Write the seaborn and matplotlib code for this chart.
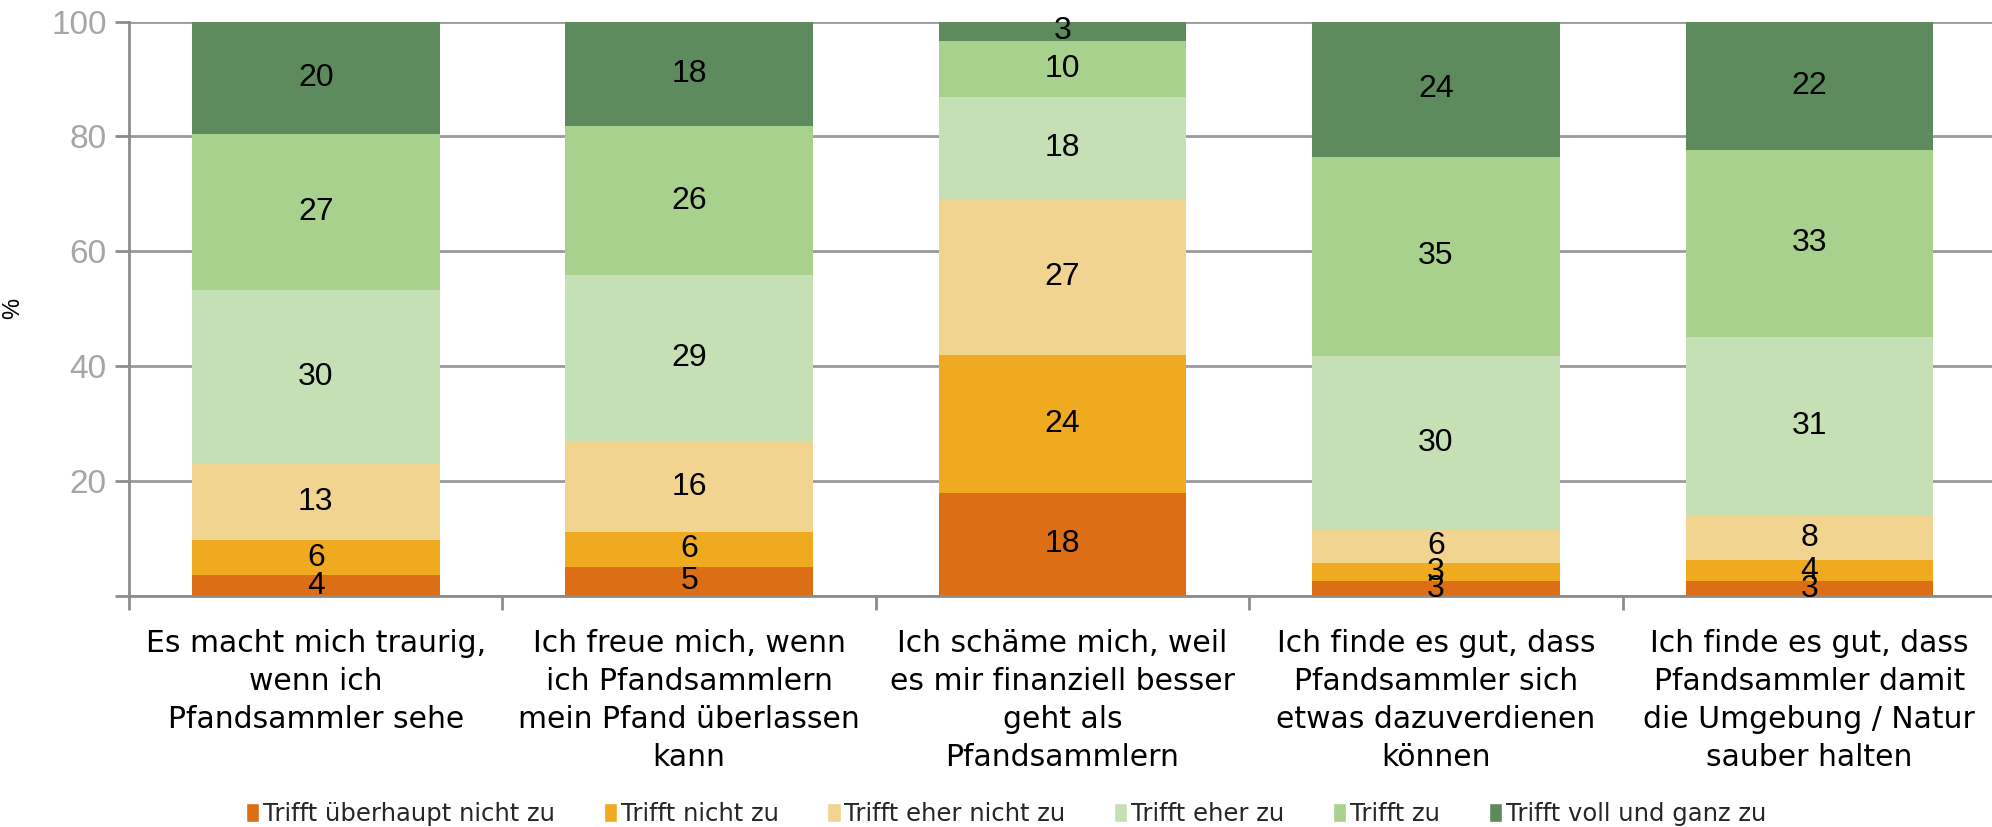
import matplotlib
matplotlib.use("Agg")
import matplotlib.pyplot as plt
from matplotlib.patches import Patch
import seaborn as sns
import pandas as pd
import numpy as np

statements = [
    "Es macht mich traurig,\nwenn ich\nPfandsammler sehe",
    "Ich freue mich, wenn\nich Pfandsammlern\nmein Pfand überlassen\nkann",
    "Ich schäme mich, weil\nes mir finanziell besser\ngeht als\nPfandsammlern",
    "Ich finde es gut, dass\nPfandsammler sich\netwas dazuverdienen\nkönnen",
    "Ich finde es gut, dass\nPfandsammler damit\ndie Umgebung / Natur\nsauber halten",
]
responses = ["Trifft überhaupt nicht zu", "Trifft nicht zu", "Trifft eher nicht zu",
             "Trifft eher zu", "Trifft zu", "Trifft voll und ganz zu"]
uberhaupt_nicht = [3.6, 5.1, 18.0, 2.6, 2.6]
nicht = [6.1, 6.1, 23.9, 3.2, 3.6]
eher_nicht = [13.4, 15.7, 27.1, 5.7, 7.8]
eher = [30.2, 29.0, 17.9, 30.3, 31.1]
zu = [27.1, 25.9, 9.8, 34.7, 32.6]
voll = [19.6, 18.2, 3.3, 23.7, 22.3]
colors = ["#DC6E15", "#F0AA20", "#F1D48F", "#C5E0B5", "#A8D18E", "#5E8B5E"]
yticks = [0, 20, 40, 60, 80, 100]
yticklabels = ["", "20", "40", "60", "80", "100"]

series = [uberhaupt_nicht, nicht, eher_nicht, eher, zu, voll]
rows = []
for r, vals in zip(responses, series):
    for s, v in zip(statements, vals):
        rows.append({"statement": s, "response": r, "value": v})
df = pd.DataFrame(rows)

sns.set_style("white")
plt.rcParams["font.family"] = ["Liberation Sans", "DejaVu Sans"]

fig = plt.figure(figsize=(19.92, 8.27), dpi=100)
ax = fig.add_axes([0.0648, 0.2793, 0.9372, 0.6946])

bottom = np.zeros(len(statements))
for r, c in zip(responses, colors):
    sub = df[df["response"] == r].set_index("statement").loc[statements]
    v = sub["value"].values
    sns.barplot(x=statements, y=v, bottom=bottom, color=c,
                width=0.663, saturation=1, ax=ax, linewidth=0, order=statements)
    cont = ax.containers[-1]
    ax.bar_label(cont, labels=[f"{x:.0f}" for x in v], label_type="center",
                 fontsize=23, color="black")
    bottom = bottom + v

ax.set_ylim(0, 100)
ax.set_xlim(-0.5, 4.5)
ax.set_yticks(yticks)
ax.set_yticklabels(yticklabels)
ax.yaxis.grid(True, color="#9A9A9A", linewidth=2)
ax.set_axisbelow(True)
for side in ["top", "right"]:
    ax.spines[side].set_visible(False)
for side in ["left", "bottom"]:
    ax.spines[side].set_color("#8C8C8C")
    ax.spines[side].set_linewidth(2)
ax.tick_params(axis="y", colors="#8C8C8C", labelcolor="#A6A6A6", labelsize=24,
               length=10, width=2, direction="out", left=True, pad=6)
ax.set_xticks(range(len(statements)))
ax.set_xticklabels(statements, fontsize=21.5, linespacing=1.38, family=["DejaVu Sans"])
ax.tick_params(axis="x", length=0, pad=24, labelcolor="black")
ax.set_xticks(np.arange(-0.5, 5, 1), minor=True)
ax.tick_params(axis="x", which="minor", length=10, width=2, color="#8C8C8C", bottom=True)
ax.set_ylabel("%", fontsize=17, color="black")
ax.yaxis.set_label_coords(-0.056, 0.5)
ax.set_xlabel("")

handles = [Patch(facecolor=c, label=r) for r, c in zip(responses, colors)]
fig.legend(handles=handles, loc="lower center", bbox_to_anchor=(0.505, -0.025), ncol=6,
           frameon=False, handlelength=0.55, handleheight=0.85,
           handletextpad=0.15, columnspacing=2.0,
           prop={"family": ["DejaVu Sans"], "size": 17.5})

fig.savefig("out.png", dpi=100)
